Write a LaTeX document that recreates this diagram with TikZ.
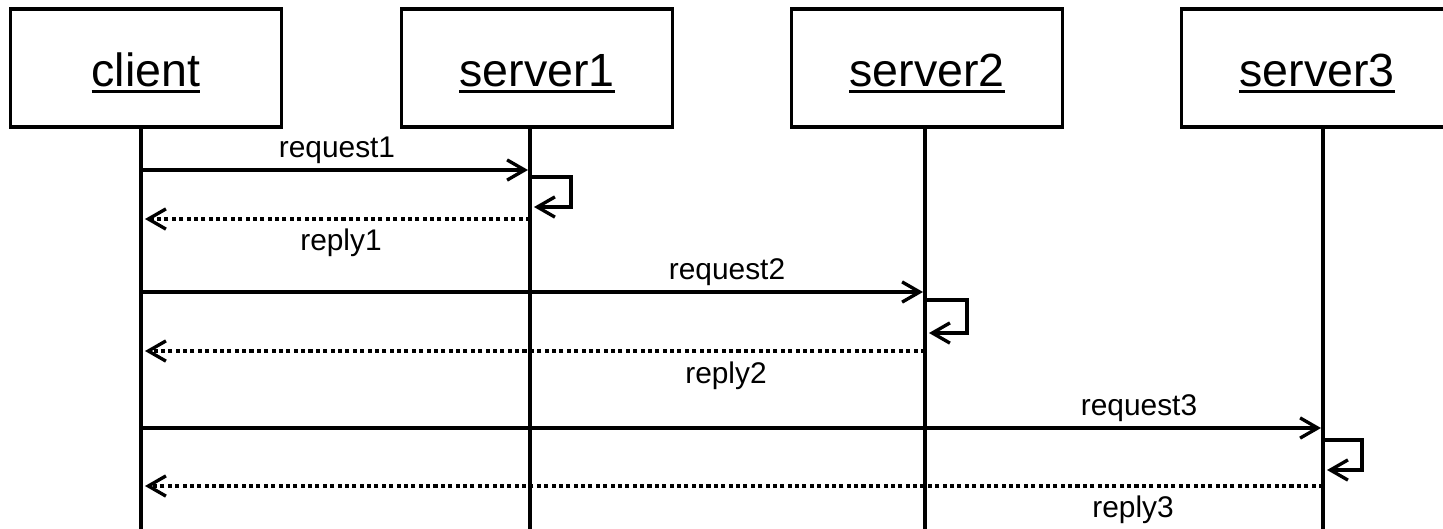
\documentclass[tikz,border=0pt]{standalone}
\usepackage{fontspec}
\setmainfont{Liberation Sans}
\usetikzlibrary{arrows.meta}

\newcommand{\actorlabel}[1]{\setbox0\hbox{#1}\leavevmode\rlap{\rule[-4pt]{\wd0}{2pt}}\box0}

\begin{document}
\begin{tikzpicture}[x=0.02cm, y=-0.02cm,
        actor/.style={rectangle, draw, line width=2pt, minimum width=5.42cm, minimum height=2.36cm, inner sep=0pt, text height=0.9cm, text depth=0.18cm, font=\fontsize{26.5}{30}\selectfont},
        life/.style={line width=1.9pt},
        req/.style={line width=1.9pt, -{Straight Barb[length=10pt, width=11.5pt]}},
        rep/.style={line width=1.9pt, dash pattern=on 2.3pt off 1.9pt, -{Straight Barb[length=10pt, width=11.5pt, line width=1.9pt, sep=0pt]}},
        lbl/.style={anchor=base, inner sep=0pt, font=\fontsize{17}{20}\selectfont}]
        \useasboundingbox (0,0) rectangle (1443,528);

        % Nodes
        \node (client) [actor] at (146,68) {\actorlabel{client}};
        \node (server1) [actor] at (537,68) {\actorlabel{server1}};
        \node (server2) [actor] at (927,68) {\actorlabel{server2}};
        \node (server3) [actor] at (1317,68) {\actorlabel{server3}};

        \coordinate (cl) at (141,535);
        \coordinate (s1) at (530,535);
        \coordinate (s2) at (925,535);
        \coordinate (s3) at (1323,535);

        \node (request1) [lbl] at (337,157) {request1};
        \node (reply1) [lbl] at (341,250) {reply1};
        \node (request2) [lbl] at (727,279) {request2};
        \node (reply2) [lbl] at (726,383) {reply2};
        \node (request3) [lbl] at (1139,415) {request3};
        \node (reply3) [lbl] at (1133,517) {reply3};

        % Lifelines
        \draw[life] (client.south -| cl) -- (cl);
        \draw[life] (server1.south -| s1) -- (s1);
        \draw[life] (server2.south -| s2) -- (s2);
        \draw[life] (server3.south -| s3) -- (s3);

        % Edges
        \draw[req] (cl |- 0,170) -- ([xshift=-0.04cm]s1 |- 0,170);
        \draw[req] (s1 |- 0,177) -- ++(41,0) -- ++(0,30) -- ++(-37,0);
        \draw[rep] (s1 |- 0,219) -- ([xshift=0.08cm]cl |- 0,219);

        \draw[req] (cl |- 0,292) -- ([xshift=-0.04cm]s2 |- 0,292);
        \draw[req] (s2 |- 0,300) -- ++(42,0) -- ++(0,33) -- ++(-38,0);
        \draw[rep] (s2 |- 0,351) -- ([xshift=0.08cm]cl |- 0,351);

        \draw[req] (cl |- 0,428) -- ([xshift=-0.04cm]s3 |- 0,428);
        \draw[req] (s3 |- 0,440) -- ++(39,0) -- ++(0,30) -- ++(-35,0);
        \draw[rep] (s3 |- 0,486) -- ([xshift=0.08cm]cl |- 0,486);

    \end{tikzpicture}
\end{document}
